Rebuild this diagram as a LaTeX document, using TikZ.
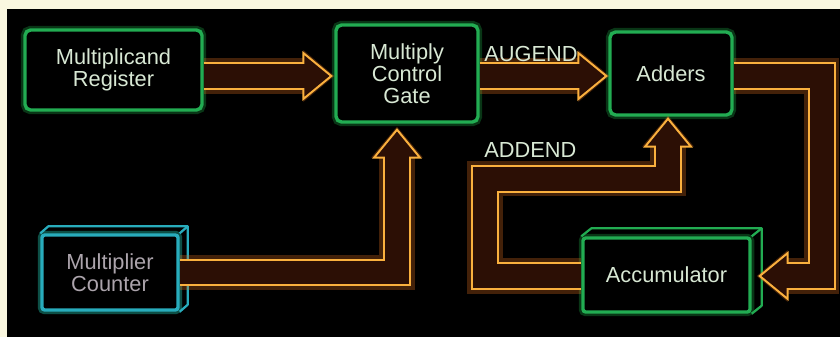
\documentclass[tikz,border=0pt]{standalone}
\usepackage{fontspec}
\setmainfont{Liberation Sans}
\usetikzlibrary{calc}

\definecolor{paper}{RGB}{250,247,224}
\definecolor{boxgreen}{RGB}{34,172,82}
\definecolor{boxglow}{RGB}{20,120,50}
\definecolor{mccyan}{RGB}{40,172,188}
\definecolor{mcglow}{RGB}{20,110,130}
\definecolor{flow}{RGB}{250,176,62}
\definecolor{flowglow}{RGB}{222,112,30}
\definecolor{flowin}{RGB}{44,15,5}
\definecolor{textpale}{RGB}{216,232,212}
\definecolor{textgrey}{RGB}{172,164,172}

\begin{document}
\begin{tikzpicture}[x=0.025cm, y=-0.025cm,
  every node/.style={font=\fontsize{15.5}{15.8}\selectfont},
  glow/.style={preaction={draw=#1, line width=6pt, opacity=.45}},
  unit/.style={draw=boxgreen, line width=2.4pt, rounded corners=4pt, fill=black, text=textpale,
    align=center, inner sep=0pt, glow=boxglow},
  box3d/.style={unit, rounded corners=2pt},
  edge3d/.style={draw=boxgreen, line width=1.6pt, line join=round},
  lab/.style={text=textpale, anchor=west, inner sep=0pt},
  fat/.style={draw=flow, line width=19.8pt,
    preaction={draw=flowglow, line width=25pt, opacity=.3},
    postaction={draw=flowin, line width=17pt}},
  pics/head/.style={code={
    \fill[flowglow, opacity=.3] (-28,-26) -- (3,0) -- (-28,26) -- cycle;
    \filldraw[draw=flow, fill=flowin, line width=1.4pt] (-28,-23) -- (0,0) -- (-28,23) -- cycle;
    \fill[flowin] (-30,-11.8) -- (-26.5,-11.8) -- (-26.5,11.8) -- (-30,11.8) -- cycle;
  }}]
% frame
\useasboundingbox (0,0) rectangle (840,337);
\fill[paper] (0,0) rectangle (840,337);
\fill[black] (7,9) rectangle (840,337);

% units
\node[unit, minimum width=4.425cm, minimum height=2cm] (mr) at (113.5,70) {Multiplicand\\Register};
\node[unit, minimum width=3.55cm, minimum height=2.425cm] (mcg) at (407,73.5) {Multiply\\Control\\Gate};
\node[unit, minimum width=3.05cm, minimum height=2.075cm] (add) at (671,73.5) {Adders};
\node[box3d, draw=mccyan, glow=mcglow, text=textgrey, minimum width=3.4cm, minimum height=1.875cm] (mc) at (110,272.5) {Multiplier\\Counter};
\node[box3d, minimum width=4.175cm, minimum height=1.85cm] (acc) at (666.5,275) {Accumulator};

\draw[edge3d, draw=mccyan] (mc.north west) -- ++(8,-7) -| ($(mc.south east)+(8,-7)$) -- (mc.south east);
\draw[edge3d, draw=mccyan] (mc.north east) -- ++(8,-7);
\draw[edge3d] (acc.north west) -- ++(10,-8) -| ($(acc.south east)+(10,-8)$) -- (acc.south east);
\draw[edge3d] (acc.north east) -- ++(10,-8);

% arrow tips
\coordinate (row) at (0,76);
\coordinate (t1) at ($(mcg.west |- row)+(-3,0)$);
\coordinate (t2) at ($(add.west |- row)+(-2,0)$);
\coordinate (t3) at ($(mcg.south)+(-10,6)$);
\coordinate (t4) at ($(acc.east)+(8,1)$);
\coordinate (t5) at ($(add.south)+(-3,2)$);

% flows
\draw[fat] (mr.east |- row) -- ($(t1)+(-28,0)$);
\draw[fat] (mcg.east |- row) -- ($(t2)+(-28,0)$);
\draw[fat] (mc.east) -| ($(t3)+(0,28)$);
\draw[fat] (add.east |- row) -| ($(t4)+(62,0)$) -- ($(t4)+(28,0)$);
\draw[fat] (acc.west |- t4) -| ($(t5)+(-183,60)$) -| ($(t5)+(0,28)$);
\pic at (t1) {head};
\pic at (t2) {head};
\pic[rotate=90] at (t3) {head};
\pic[rotate=180] at (t4) {head};
\pic[rotate=90] at (t5) {head};

\node[lab] (augend) at (484,54) {AUGEND};
\node[lab] (addend) at (484,150) {ADDEND};
\end{tikzpicture}
\end{document}
